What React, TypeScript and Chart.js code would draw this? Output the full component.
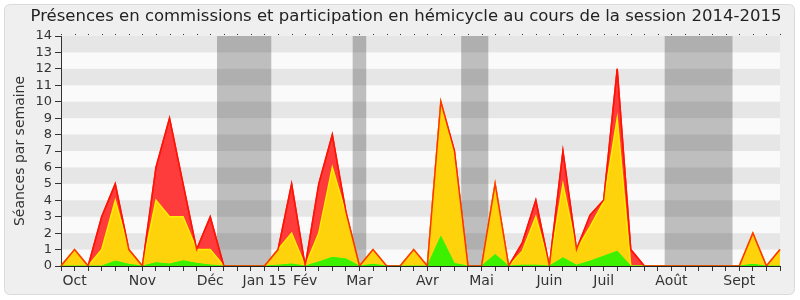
import React, { useEffect, useRef } from "react";
import { Chart, registerables } from "chart.js";
Chart.register(...registerables);

const TITLE = "Présences en commissions et participation en hémicycle au cours de la session 2014-2015";
const Y_TITLE = "Séances par semaine";

const weekLabels = [
  "", "Oct", "", "", "", "", "Nov", "", "", "", "", "Déc", "", "", "", "Jan 15", "", "", "Fév", "", "", "",
  "Mar", "", "", "", "", "Avr", "", "", "", "Mai", "", "", "", "", "Juin", "", "", "", "Juil", "", "", "", "",
  "Août", "", "", "", "", "Sept", "", "", "",
];

// cumulative heights of the three stacked areas
const greenVals = [
  0, 0, 0, 0, 0.3, 0.1, 0, 0.2, 0.12, 0.32, 0.16, 0.06, 0, 0, 0, 0, 0.05, 0.12, 0, 0.25, 0.53, 0.43, 0, 0.1, 0, 0, 0,
  0, 1.8, 0.15, 0, 0, 0.7, 0, 0.05, 0.05, 0, 0.5, 0.05, 0.3, 0.6, 0.9, 0, 0, 0, 0, 0, 0, 0, 0, 0, 0.1, 0, 0,
];
const yellowVals = [
  0, 1, 0, 1, 4, 1, 0, 4, 3, 3, 1, 1, 0, 0, 0, 0, 1, 2, 0, 2, 6, 3.2, 0, 1, 0, 0, 1,
  0, 10, 6.8, 0, 0, 5, 0, 0.9, 3, 0, 5, 1, 2.4, 3.9, 9, 0, 0, 0, 0, 0, 0, 0, 0, 0, 2, 0, 1,
];
const redVals = [
  0, 1, 0, 3, 5, 1, 0, 6, 9, 5, 1, 3, 0, 0, 0, 0, 1, 5, 0, 5, 8, 3.3, 0, 1, 0, 0, 1,
  0, 10, 7, 0, 0, 5, 0, 1.4, 4, 0, 7, 1, 3.1, 4, 12, 1, 0, 0, 0, 0, 0, 0, 0, 0, 2, 0, 1,
];

const vacationStart = [11.5, 21.5, 29.5, 44.5];
const vacationEnd = [15.5, 22.5, 31.5, 49.5];

const FONT = "'DejaVu Sans', sans-serif";

const decorPlugin = {
  id: "decor",
  beforeDraw(chart: any) {
    const { ctx, chartArea: a, scales } = chart;
    const x = scales.x;
    const y = scales.y;
    ctx.save();
    ctx.fillStyle = "#ffffff";
    ctx.fillRect(0, 0, chart.width, chart.height);
    const rx = 4.5, ry = 4.5, rw = 790, rh = 290, r = 6;
    ctx.beginPath();
    ctx.moveTo(rx + r, ry);
    ctx.lineTo(rx + rw - r, ry);
    ctx.quadraticCurveTo(rx + rw, ry, rx + rw, ry + r);
    ctx.lineTo(rx + rw, ry + rh - r);
    ctx.quadraticCurveTo(rx + rw, ry + rh, rx + rw - r, ry + rh);
    ctx.lineTo(rx + r, ry + rh);
    ctx.quadraticCurveTo(rx, ry + rh, rx, ry + rh - r);
    ctx.lineTo(rx, ry + r);
    ctx.quadraticCurveTo(rx, ry, rx + r, ry);
    ctx.closePath();
    ctx.fillStyle = "#efefef";
    ctx.fill();
    ctx.strokeStyle = "#dadada";
    ctx.lineWidth = 1;
    ctx.stroke();
    ctx.fillStyle = "#fafafa";
    ctx.fillRect(a.left, a.top, a.right - a.left, a.bottom - a.top);
    ctx.fillStyle = "#e6e6e6";
    for (let v = 1; v < 14; v += 2) {
      const y1 = y.getPixelForValue(v + 1);
      const y0 = y.getPixelForValue(v);
      ctx.fillRect(a.left, y1, a.right - a.left, y0 - y1);
    }
    ctx.fillStyle = "rgba(0,0,0,0.24)";
    for (let i = 0; i < vacationStart.length; i++) {
      const x0 = x.getPixelForValue(vacationStart[i]);
      const x1 = x.getPixelForValue(vacationEnd[i]);
      ctx.fillRect(x0, a.top, x1 - x0, a.bottom - a.top);
    }
    ctx.fillStyle = "#222";
    ctx.font = `16.5px ${FONT}`;
    ctx.textAlign = "center";
    ctx.textBaseline = "middle";
    ctx.fillText(TITLE, 406, 17);
    ctx.restore();
  },
  afterDraw(chart: any) {
    const { ctx, chartArea: a, scales } = chart;
    ctx.save();
    ctx.fillStyle = "#333";
    for (let i = 0; i < weekLabels.length; i++) {
      const px = Math.round(scales.x.getPixelForValue(i));
      ctx.fillRect(px, a.top - 2, 1, 1);
    }
    ctx.restore();
  },
};

export default function App() {
  const ref = useRef<HTMLCanvasElement | null>(null);
  useEffect(() => {
    document.body.style.margin = "0";
    const canvas = ref.current!;
    const base = { pointRadius: 0, tension: 0 };
    const chart = new Chart(canvas, {
      type: "line",
      data: {
        labels: weekLabels,
        datasets: [
          // outline of the top area, drawn last
          { ...base, data: redVals, borderColor: "rgba(255,20,0,0.85)", borderWidth: 1.5, fill: false, order: -1 },
          { ...base, data: greenVals, backgroundColor: "#3cf000", borderColor: "#30f500", borderWidth: 1, fill: "origin", order: 1 },
          { ...base, data: yellowVals, backgroundColor: "#ffd30c", borderColor: "#ffee00", borderWidth: 1.5, fill: "origin", order: 2 },
          { ...base, data: redVals, backgroundColor: "#ff3c3c", borderColor: "#ff1010", borderWidth: 1.5, fill: "origin", order: 3 },
        ],
      },
      options: {
        animation: false,
        responsive: false,
        layout: { padding: { left: 0, right: 20, top: 36, bottom: 0 } },
        plugins: { legend: { display: false }, tooltip: { enabled: false }, title: { display: false } },
        scales: {
          x: {
            type: "category",
            offset: false,
            grid: { drawOnChartArea: false, drawTicks: true, tickLength: 5, tickColor: "#333" },
            border: { color: "#222", width: 1 },
            ticks: {
              autoSkip: false,
              maxRotation: 0,
              minRotation: 0,
              padding: 2,
              color: "#333",
              font: { family: FONT, size: 14 },
            },
            afterFit(scale: any) {
              scale.height = 34;
            },
          },
          y: {
            min: 0,
            max: 14,
            grid: { drawOnChartArea: false, drawTicks: true, tickLength: 6, tickColor: "#333" },
            border: { color: "#333", width: 1 },
            ticks: {
              stepSize: 1,
              autoSkip: false,
              padding: 3,
              color: "#333",
              font: { family: FONT, size: 13 },
            },
            title: {
              display: true,
              text: Y_TITLE,
              color: "#333",
              font: { family: FONT, size: 14 },
              padding: { top: 12, bottom: 0 },
            },
            afterFit(scale: any) {
              scale.width = 61;
            },
          },
        },
      },
      plugins: [decorPlugin],
    });
    return () => chart.destroy();
  }, []);
  return (
    <div style={{ width: 800, height: 300 }}>
      <canvas ref={ref} width={800} height={300} style={{ display: "block" }} />
    </div>
  );
}
